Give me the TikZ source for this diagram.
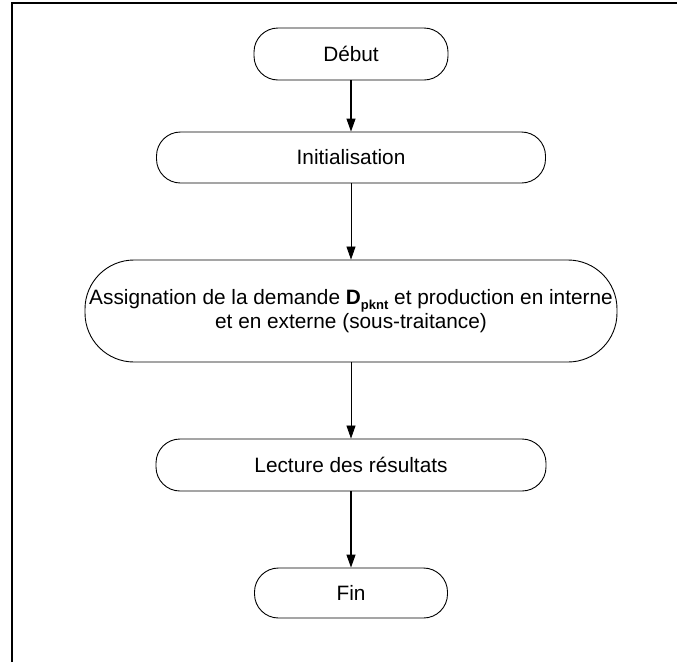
\documentclass[tikz,border=0pt]{standalone}
\usepackage{fontspec}
\setmainfont{Liberation Sans}
\usetikzlibrary{arrows.meta}
\begin{document}
\begin{tikzpicture}[x=1pt,y=-1pt,
  term/.style={draw=black, line width=0.9pt, rounded corners=24pt, align=center,
    inner sep=0pt, font=\fontsize{20.8}{24}\selectfont},
  flow/.style={draw=black, line width=1.2pt, -{Triangle[length=13pt,width=9pt]}},
  frame/.style={draw=black, line width=2pt}]
\useasboundingbox (0,0) rectangle (677,662);
\draw[frame] (12,662) -- (12,3) -- (677,3);
\node[term, minimum width=194pt, minimum height=52pt] (debut) at (351,54) {Début};
\node[term, minimum width=389pt, minimum height=51pt] (init) at (351,157.5) {Initialisation};
\node[term, rounded corners=49pt, minimum width=532pt, minimum height=102pt] (assign) at (351,311)
  {Assignation de la demande \textbf{D}\raisebox{-5pt}{\fontsize{13}{13}\selectfont\bfseries pknt} et production en interne\\ et en externe (sous-traitance)};
\node[term, minimum width=390pt, minimum height=52pt] (lecture) at (351,465) {Lecture des résultats};
\node[term, minimum width=193pt, minimum height=50pt] (fin) at (351,593) {Fin};
\draw[flow] (debut) -- (init);
\draw[flow, line width=0.8pt] (init) -- (assign);
\draw[flow, line width=0.8pt] (assign) -- (lecture);
\draw[flow] (lecture) -- (fin);
\end{tikzpicture}
\end{document}
